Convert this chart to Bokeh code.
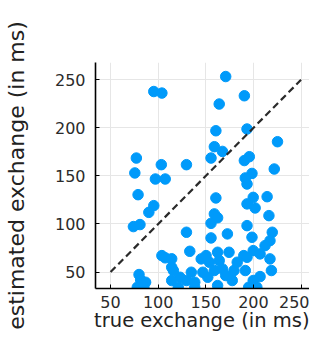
from bokeh.plotting import figure
from bokeh.models import Range1d, Title
from bokeh.embed import file_html
from bokeh.resources import INLINE

# true exchange (ms)
true_x = [95.4, 103.9, 77.1, 75.5, 103.3, 97.1, 107.4, 78.9, 95.4, 90.2,
          74.0, 80.9, 103.9, 107.4, 114.2, 79.9, 81.6, 86.8, 78.1, 85.0,
          129.7, 170.9, 164.1, 190.5, 160.6, 193.3, 159.0, 167.5, 155.5, 225.3,
          190.5, 195.7, 198.5, 221.9, 191.5, 160.6, 159.0, 155.5, 162.4, 129.7,
          155.5, 172.7, 133.2, 193.3, 199.8, 193.3, 201.8, 214.4, 216.3, 193.3,
          198.5, 219.8, 217.4, 212.2, 114.2, 116.0, 122.9, 114.2, 134.8, 129.7,
          138.4, 145.2, 150.3, 153.8, 162.4, 164.1, 174.4, 159.0, 146.9, 152.1,
          167.5, 170.9, 179.6, 183.0, 189.9, 177.8, 162.4, 138.4, 121.1, 199.8,
          193.3, 207.0, 217.4, 218.9, 191.5, 207.0, 199.8, 195.0, 203.6]
# estimated exchange (ms)
est_y = [237.8, 236.2, 168.6, 153.1, 161.7, 146.8, 146.8, 130.5, 119.1, 112.1,
         97.3, 99.4, 67.1, 64.8, 55.0, 47.4, 41.9, 39.4, 34.2, 34.2,
         161.7, 253.4, 224.8, 233.4, 197.0, 198.8, 180.4, 175.5, 168.6, 185.6,
         166.0, 170.0, 152.6, 157.2, 147.9, 127.1, 110.5, 100.7, 106.5, 91.4,
         85.5, 89.7, 71.6, 141.6, 127.7, 120.9, 116.7, 128.4, 108.7, 98.3,
         86.2, 91.4, 82.7, 77.5, 63.8, 51.6, 44.6, 41.2, 49.8, 41.2,
         39.4, 63.7, 67.1, 60.2, 70.6, 62.0, 70.6, 51.6, 49.8, 44.6,
         53.3, 46.4, 51.6, 60.2, 67.1, 41.2, 36.0, 34.2, 34.2, 72.3,
         65.4, 68.9, 63.7, 51.6, 51.6, 45.3, 41.2, 34.2, 34.2]

identity_x = [50, 250]
identity_y = [50, 250]
ticks = [50, 100, 150, 200, 250]

x_lo, x_hi = 34.2, 258.9
y_lo, y_hi = 32.9, 268.0

p = figure(width=309, height=331,
           x_range=Range1d(x_lo, x_hi), y_range=Range1d(y_lo, y_hi),
           output_backend="svg", toolbar_location=None,
           min_border_left=91, min_border_right=0,
           min_border_top=62, min_border_bottom=43)
p.outline_line_color = None
p.background_fill_color = "white"
p.border_fill_color = "white"

for ax in (p.xaxis, p.yaxis):
    ax.ticker = ticks
    ax.major_label_text_font = "DejaVu Sans"
    ax.major_label_text_font_size = "16px"
    ax.major_label_text_color = "#2b2b2b"
    ax.axis_line_color = "black"
    ax.axis_line_width = 1.6
    ax.major_tick_in = 4
    ax.major_tick_out = 0
    ax.major_tick_line_color = "black"
    ax.minor_tick_line_color = None
    ax.axis_label_text_font = "DejaVu Sans"
    ax.axis_label_text_font_size = "22px"
    ax.axis_label_text_font_style = "normal"
    ax.axis_label_text_color = "#222222"

p.xaxis.major_label_standoff = 7
p.yaxis.major_label_standoff = 10
p.yaxis.axis_label = "estimated exchange (in ms)"
p.yaxis.axis_label_standoff = 23

p.add_layout(Title(text="true exchange (in ms)", align="right",
                   text_font="DejaVu Sans", text_font_size="19.5px",
                   text_font_style="normal", text_color="#222222",
                   standoff=-8, offset=0), "below")

for g in (p.xgrid, p.ygrid):
    g.grid_line_color = "#e6e6e6"
    g.grid_line_width = 1
    g.ticker = ticks

p.scatter(true_x, est_y, size=10.5, fill_color="#009AFA", line_color="#009AFA")
p.line(identity_x, identity_y, line_color="#2a2a2a", line_width=2.2, line_dash="7 4")

open("out.html", "w").write(file_html(p, INLINE))
